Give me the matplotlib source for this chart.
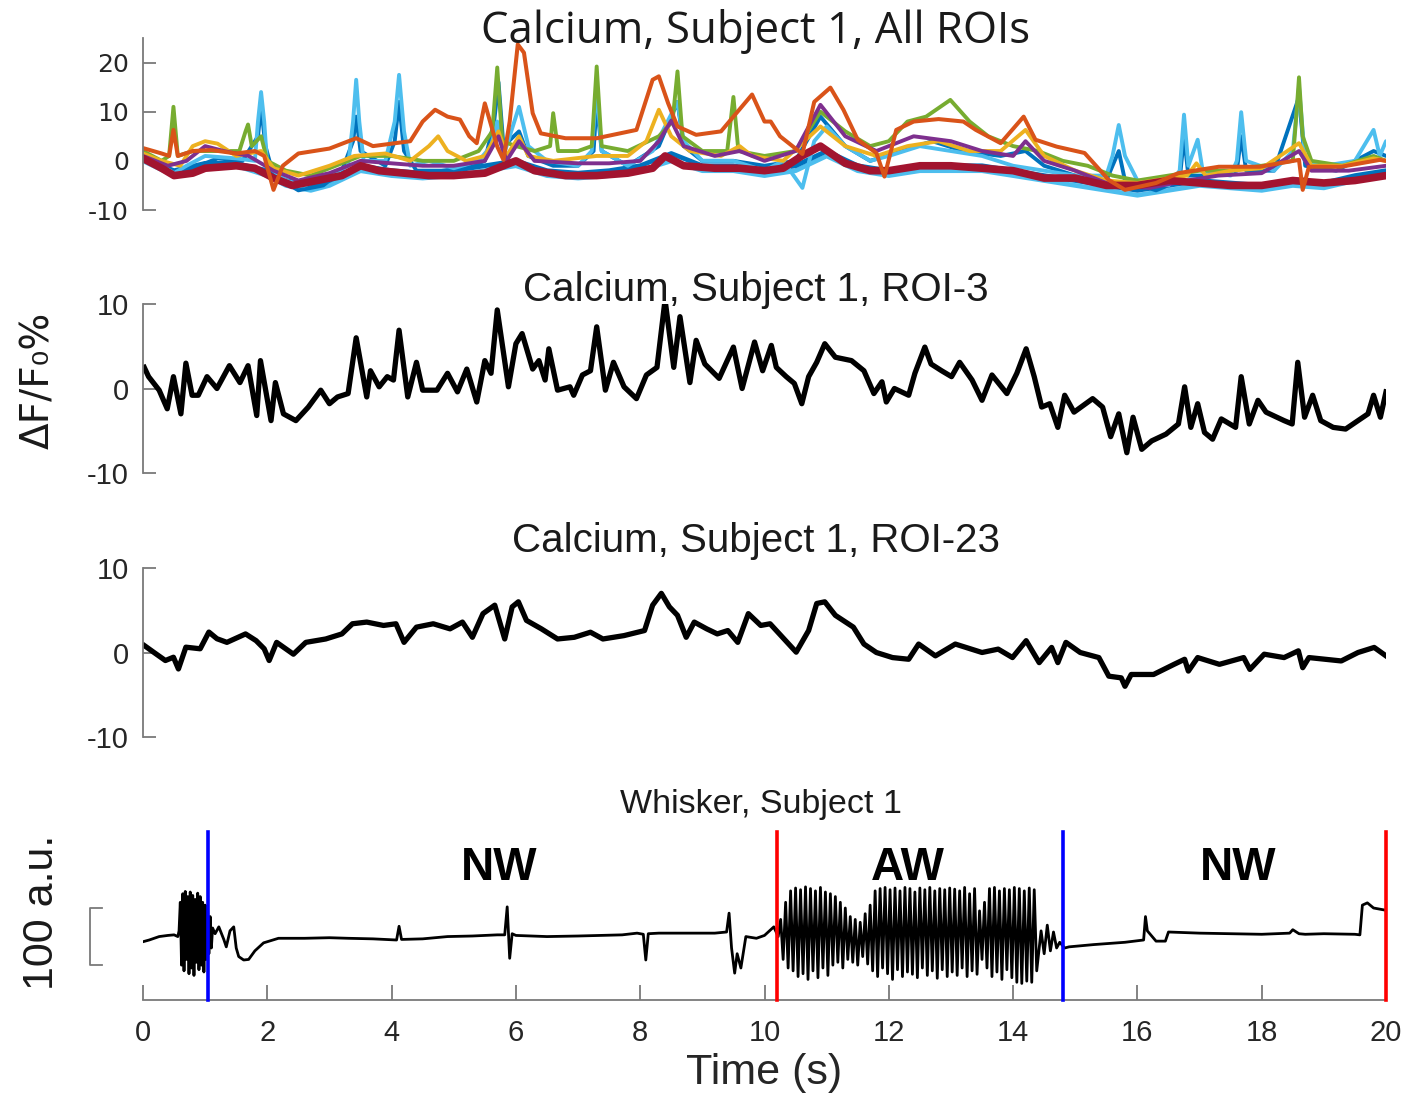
import numpy as np
import matplotlib
matplotlib.use("Agg")
import matplotlib.pyplot as plt
import matplotlib.transforms as mtrans

plt.rcParams["axes.unicode_minus"] = False

# ---------------- DATA ----------------
# Panel 1: all ROIs (MATLAB default colour order)
c_blue, c_orange, c_yellow, c_purple, c_green, c_lblue, c_dred = (
    "#0072BD", "#D95319", "#EDB120", "#7E2F8E", "#77AC30", "#4DBEEE", "#A2142F")

blue_t = [0, 0.3, 0.5, 0.8, 1.2, 1.6, 1.85, 1.9, 1.97, 2.1, 2.5, 2.9, 3.2, 3.38, 3.43, 3.5, 3.9, 4.05, 4.12, 4.2,
          4.4, 4.8, 5.2, 5.5, 5.65, 5.72, 5.8, 6.05, 6.2, 6.6, 7.0, 7.25, 7.3, 7.38, 7.8, 8.3, 8.6, 8.7, 9.0, 9.5,
          10.0, 10.5, 10.9, 11.3, 11.7, 12.2, 12.7, 13.2, 13.8, 14.2, 14.5, 15.0, 15.5, 15.7, 15.8, 16.3, 16.68,
          16.75, 16.82, 17.2, 17.6, 17.67, 17.75, 18.2, 18.6, 18.7, 19.2, 19.8, 20.0]
blue_v = [0.5, -1.5, -3, -1.5, 0.5, 0, 5, 11, 3, -3, -6, -5, -2, 4, 9, 2, -1, 4, 12, 2,
          -2, -2, -1.5, 0, 8, 16, 3, 6, 1, -1, -1, 2, 12, 2, -1, 3, 12, 3, 0, 0,
          -1, 0, 9, 3, 0, 2, 4, 2, 1, 2, -1, -3, -4, 2, -4, -6, -4,
          5, -3, -3, -2, 5, -2, -2, 13, -1, -2, 2, 1]

blue2_t = [0, 0.5, 1.0, 1.5, 2.0, 2.3, 2.7, 3.0, 3.5, 4.0, 4.5, 5.0, 5.5, 6.0, 6.5, 7.0, 7.5, 8.0, 8.5, 9.0,
           9.5, 10.0, 10.5, 11.0, 11.5, 12.0, 12.5, 13.0, 13.5, 14.0, 14.5, 15.0, 15.5, 16.0, 16.5, 17.0,
           17.5, 18.0, 18.5, 19.0, 19.5, 20.0]
blue2_v = [0.5, -2, -0.5, -0.5, -2, -4, -5, -4, -1, -2, -2.5, -2, -1, 0, -2, -2.5, -2, -1, 1.5, -1,
           -1, -2, -1, 2, -1, -2, -1, -1, -1, -2, -3, -4, -5, -6, -5, -4,
           -4.5, -5, -4, -4.5, -3, -2]

lblue_t = [0, 0.3, 0.5, 0.7, 1.0, 1.5, 1.8, 1.85, 1.9, 1.95, 2.0, 2.3, 2.6, 3.0, 3.3, 3.38, 3.43, 3.48, 3.55, 3.9,
           4.05, 4.12, 4.2, 4.3, 4.6, 5.0, 5.4, 5.6, 5.7, 5.8, 6.05, 6.2, 6.5, 7.0, 7.22, 7.3, 7.38, 7.8, 8.2, 8.4,
           8.6, 8.7, 9.0, 9.5, 10.0, 10.3, 10.61, 10.8, 11.0, 11.3, 11.7, 12.0, 12.5, 13.0, 13.5, 14.0, 14.5, 15.0,
           15.5, 15.6, 15.7, 15.8, 16.0, 16.5, 16.68, 16.75, 16.82, 16.97, 17.05, 17.5, 17.6, 17.67, 17.75, 18.2,
           18.5, 18.6, 18.7, 19.0, 19.5, 19.8, 19.9, 20.0]
lblue_v = [1, -1, -2.5, -1, 1, 0.5, 0, 8, 14, 8, -1, -4, -5, -3, -1, 8, 16.5, 8, 0, 0,
           8, 17.5, 6, -1, 0, -1.5, 0, 3, 8, 1, 11, 3, 0, -1, 2, 15, 2, -1, 2, 7,
           12, 4, 0, 0, -2, 0, -5.5, 4, 7, 3, 0, 1, 3, 2, 1, -1, -2, -3,
           -3, 1, 7.3, 1, -4, -5, -2, 9.4, -1, 4.3, -2, -3, 0, 9.9, 0, -2,
           2, 15, 0, -1, 0, 6.3, 1, 4]

lblue2_t = [0, 0.5, 1.0, 1.5, 2.0, 2.3, 2.7, 3.0, 3.5, 4.0, 4.5, 5.0, 5.5, 6.0, 6.5, 7.0, 7.5, 8.0, 8.5, 9.0,
            9.5, 10.0, 10.5, 11.0, 11.5, 12.0, 12.5, 13.0, 13.5, 14.0, 14.5, 15.0, 15.5, 16.0, 16.5, 17.0,
            17.5, 18.0, 18.5, 19.0, 19.5, 20.0]
lblue2_v = [0, -3, -1, -1, -3, -5, -6, -5, -2, -3, -3.5, -3, -2, -1, -3, -3.5, -3, -2, 0, -2,
            -2, -3, -2, 1, -2, -3, -2, -2, -2, -3, -4, -5, -6, -7, -6, -5,
            -5.5, -6, -5, -5.5, -4, -3]

green_t = [0, 0.3, 0.42, 0.49, 0.56, 0.8, 1.2, 1.55, 1.65, 1.69, 1.75, 1.9, 2.0, 2.3, 2.7, 3.1, 3.5, 4.0, 4.5, 5.0,
           5.4, 5.62, 5.7, 5.78, 6.0, 6.3, 6.55, 6.6, 6.68, 7.0, 7.22, 7.3, 7.38, 7.8, 8.3, 8.52, 8.6, 8.68, 9.0,
           9.4, 9.5, 9.58, 10.0, 10.5, 10.9, 11.3, 11.7, 12.0, 12.3, 12.6, 12.99, 13.3, 13.6, 14.0, 14.4, 14.8,
           15.2, 15.6, 16.0, 16.5, 17.0, 17.5, 18.0, 18.5, 18.55, 18.6, 18.66, 18.8, 19.3, 19.8, 20.0]
green_v = [2, 0, 1, 11, 1, 2, 2, 2, 6, 7.4, 3, 5, 0, -2, -3, -1, 1, 1, 0, 0,
           2, 6, 19, 4, 3, 2, 3, 9.7, 2, 2, 3, 19.2, 3, 2, 5, 8, 18.2, 5, 2,
           2, 13, 2, 1, 2, 10, 6, 3, 4, 8, 9, 12.4, 8, 5, 3, 2, 0,
           -1, -3, -4, -3, -2, -2, -1, 0, 8, 17, 5, 0, -1, 1, 0]

yellow_t = [0, 0.3, 0.6, 0.8, 1.0, 1.2, 1.5, 1.9, 2.1, 2.5, 3.0, 3.4, 3.9, 4.3, 4.6, 4.75, 4.9, 5.2, 5.5, 5.72,
            5.85, 6.05, 6.2, 6.6, 7.3, 7.8, 8.1, 8.3, 8.5, 8.8, 9.3, 9.6, 9.8, 10.3, 10.9, 11.3, 11.8, 12.3,
            12.8, 13.3, 13.8, 14.2, 14.5, 15.0, 15.5, 16.0, 16.8, 16.95, 17.1, 17.5, 18.0, 18.6, 18.8, 19.3,
            19.8, 20.0]
yellow_v = [1.5, 0, -1, 3, 4, 3.5, 1, 2, -1.5, -3, -1, 1, 1.5, 0, 3, 5, 2, 0, 1, 6,
            1, 5, 1, 0, 1, 1, 4, 10.4, 5, 2, 1, 3, 1, 0, 7, 3, 1, 3,
            4, 2, 2, 6.3, 1, -2, -4, -4.5, -3, -0.5, -3, -2, -1.5, 3.6, -1, -1,
            0.5, 0]

purple_t = [0, 0.4, 0.7, 1.0, 1.3, 1.7, 2.1, 2.5, 3.0, 3.5, 4.0, 4.5, 5.0, 5.5, 5.72, 5.85, 6.05, 6.3, 7.0, 7.5,
            8.0, 8.3, 8.5, 8.7, 9.2, 9.6, 10.0, 10.5, 10.9, 11.3, 11.8, 12.4, 13.0, 13.5, 14.0, 14.2, 14.5,
            15.0, 15.6, 16.2, 16.8, 17.3, 18.0, 18.6, 18.8, 19.4, 20.0]
purple_v = [1, -1, 0, 3, 2, 1, -2, -4, -2.5, 0, -0.5, -1, -1, 0, 5, 0, 4, 0, -0.5, -0.5,
            0, 4, 8.2, 3, 1, 2, 0, 2, 11.4, 5, 2, 5, 4, 2, 1, 4, 0,
            -2, -5, -5.5, -4, -3, -2.5, 2, -2, -2, -1]

dred_t = [0, 0.3, 0.5, 0.8, 1.0, 1.5, 1.8, 2.1, 2.4, 2.8, 3.2, 3.5, 3.8, 4.2, 4.6, 5.0, 5.5, 5.8, 6.0, 6.3,
          6.8, 7.3, 7.8, 8.2, 8.4, 8.7, 9.2, 9.6, 10.0, 10.3, 10.6, 10.9, 11.3, 11.7, 12.0, 12.5, 13.0, 13.5,
          14.0, 14.5, 15.0, 15.5, 16.0, 16.5, 17.0, 17.5, 18.0, 18.5, 19.0, 19.5, 20.0]
dred_v = [0.5, -1.5, -3, -2.5, -1.5, -1, -1.5, -3.5, -5, -4, -3, -1, -2, -2.5, -3, -3, -2.5, -1, 0, -2,
          -3, -3, -2.5, -1.5, 1, -1, -1.5, -1.5, -2, -1.5, 1, 3, -0.5, -2, -2, -1, -1, -1.5,
          -2, -3.5, -3.5, -5, -5, -4, -4.5, -5, -5, -4, -4.5, -4, -3]

orange_t = [0, 0.3, 0.42, 0.49, 0.56, 0.8, 1.1, 1.5, 1.8, 1.95, 2.1, 2.25, 2.5, 3.0, 3.43, 3.7, 4.0, 4.3, 4.5,
            4.7, 4.9, 5.1, 5.25, 5.37, 5.5, 5.7, 5.8, 5.9, 6.03, 6.13, 6.27, 6.4, 6.8, 7.3, 7.94, 8.2, 8.3,
            8.45, 8.6, 8.9, 9.3, 9.5, 9.8, 10.0, 10.1, 10.25, 10.61, 10.8, 11.06, 11.27, 11.5, 11.8, 11.93,
            12.12, 12.4, 12.8, 13.2, 13.4, 13.8, 14.17, 14.36, 14.7, 15.15, 15.54, 15.8, 16.3, 16.66, 17.31,
            17.97, 18.6, 18.66, 18.76, 19.28, 19.9, 20.0]
orange_v = [2.6, 1.5, 1, 6.3, 1, 2, 2.2, 1.5, 2, 1, -5.9, -1, 1.5, 2.5, 4.6, 3, 3.5, 4, 8,
            10.4, 9, 8.4, 5, 3.6, 11.7, 2.9, 0.2, 8, 23.7, 22, 9.7, 5.6, 4.6, 4.6, 6.3, 16.5, 17.2,
            11.7, 7, 5.3, 6, 9, 13.5, 8, 8, 5, 1.4, 12, 14.9, 10.4, 4.3, 1.6, -3.2,
            6.3, 8, 8.5, 8, 6.3, 3.6, 9.0, 4.3, 2.9, 1.6, -3.9, -5.9, -4.5, -2.5, -1.2,
            -1.2, 0.2, -5.9, -1.2, -1.2, 0.2, 0]

# Panel 2: ROI-3
roi3_t = [0.02, 0.09, 0.26, 0.39, 0.49, 0.61, 0.69, 0.79, 0.89, 1.03, 1.19, 1.39, 1.56, 1.69, 1.83, 1.89, 2.06,
          2.13, 2.26, 2.46, 2.66, 2.86, 3.00, 3.13, 3.30, 3.43, 3.60, 3.66, 3.80, 3.93, 4.03, 4.12, 4.26, 4.40,
          4.50, 4.73, 4.90, 5.06, 5.21, 5.37, 5.50, 5.60, 5.70, 5.88, 6.00, 6.10, 6.27, 6.37, 6.47, 6.53, 6.67,
          6.87, 6.93, 7.07, 7.20, 7.30, 7.44, 7.57, 7.74, 7.94, 8.10, 8.27, 8.40, 8.54, 8.64, 8.80, 8.90, 9.04,
          9.27, 9.50, 9.64, 9.84, 9.97, 10.11, 10.19, 10.35, 10.48, 10.60, 10.71, 10.84, 10.97, 11.14, 11.40,
          11.60, 11.76, 11.89, 11.96, 12.09, 12.32, 12.42, 12.58, 12.68, 12.85, 13.01, 13.14, 13.34, 13.50,
          13.66, 13.90, 14.06, 14.21, 14.34, 14.46, 14.59, 14.72, 14.83, 14.98, 15.28, 15.44, 15.57, 15.70,
          15.83, 15.93, 16.07, 16.23, 16.46, 16.66, 16.76, 16.86, 16.97, 17.08, 17.21, 17.35, 17.58, 17.67,
          17.80, 17.94, 18.07, 18.36, 18.49, 18.58, 18.69, 18.82, 18.95, 19.15, 19.35, 19.55, 19.71, 19.80,
          19.91, 20.0]
roi3_v = [2.5, 1.4, -0.2, -2.4, 1.4, -3.0, 3.0, -0.8, -0.8, 1.4, 0, 2.7, 0.7, 2.7, -3.2, 3.3, -3.8,
          0.7, -3.0, -3.8, -2.2, -0.2, -1.8, -1.0, -0.6, 6.0, -1.0, 2.1, 0.2, 1.4, 1.0, 6.9, -1.0, 3.1,
          -0.2, -0.2, 1.8, -0.4, 2.3, -1.6, 3.3, 1.8, 9.3, 0.2, 5.3, 6.5, 2.3, 3.3, 1.0, 4.7, -0.2,
          0.2, -0.8, 1.6, 2.1, 7.3, -0.2, 3.1, 0.2, -1.2, 1.6, 2.5, 10.5, 2.5, 8.5, 0.7, 5.7, 2.9,
          1.2, 4.9, 0, 5.5, 2.1, 5.1, 2.5, 1.4, 0.6, -1.8, 1.4, 3.1, 5.3, 3.7, 3.3,
          2.1, -0.6, 0.8, -1.6, 0, -0.8, 1.8, 4.9, 2.9, 2.1, 1.4, 3.1, 1.0, -1.4,
          1.6, -0.6, 1.8, 4.7, 1.4, -2.2, -1.8, -4.6, -0.8, -2.8, -1.2, -2.2, -5.7, -3.0,
          -7.6, -3.4, -7.2, -6.2, -5.4, -4.2, 0.2, -4.6, -1.8, -5.2, -6.0, -3.6, -4.6, 1.4,
          -4.2, -1.4, -2.8, -3.8, -4.2, 3.1, -3.4, -0.8, -3.8, -4.6, -4.8, -3.8, -3.0, -0.8,
          -3.4, -0.4]

# Panel 3: ROI-23
roi23_t = [0.02, 0.17, 0.36, 0.49, 0.57, 0.69, 0.92, 1.06, 1.19, 1.35, 1.65, 1.82, 1.95, 2.03, 2.15, 2.42,
           2.62, 2.94, 3.20, 3.37, 3.60, 3.87, 4.07, 4.20, 4.40, 4.67, 4.94, 5.14, 5.30, 5.47, 5.66, 5.82,
           5.94, 6.04, 6.17, 6.41, 6.67, 6.94, 7.20, 7.40, 7.74, 8.07, 8.20, 8.34, 8.47, 8.60, 8.74, 8.87,
           9.07, 9.24, 9.41, 9.57, 9.74, 9.94, 10.09, 10.29, 10.51, 10.71, 10.84, 10.97, 11.14, 11.43,
           11.60, 11.80, 12.06, 12.32, 12.48, 12.75, 13.07, 13.50, 13.76, 13.99, 14.21, 14.42, 14.62, 14.72,
           14.85, 15.08, 15.38, 15.54, 15.74, 15.80, 15.90, 16.26, 16.59, 16.76, 16.82, 16.97, 17.32, 17.71,
           17.81, 18.04, 18.36, 18.59, 18.66, 18.76, 19.28, 19.55, 19.81, 20.0]
roi23_v = [0.83, 0.04, -0.95, -0.56, -1.95, 0.63, 0.44, 2.42, 1.63, 1.2, 2.2, 1.4, 0.44, -0.95, 1.2, -0.2,
           1.2, 1.6, 2.2, 3.4, 3.6, 3.2, 3.4, 1.2, 3.0, 3.4, 2.8, 3.6, 1.8, 4.6, 5.6, 1.6,
           5.4, 6.0, 3.8, 2.8, 1.6, 1.8, 2.4, 1.6, 2.0, 2.6, 5.6, 7.0, 5.4, 4.4, 1.8, 3.6,
           2.8, 2.2, 2.6, 1.2, 4.6, 3.2, 3.4, 1.8, 0.04, 2.6, 5.8, 6.0, 4.4, 3.0,
           1.0, 0.0, -0.6, -0.8, 1.0, -0.4, 1.0, 0.0, 0.4, -0.6, 1.4, -1.2, 0.6, -1.2,
           1.2, 0.0, -0.6, -2.8, -3.0, -4.0, -2.6, -2.6, -1.4, -0.8, -2.2, -0.6, -1.4, -0.6,
           -2.0, -0.2, -0.6, 0.2, -1.8, -0.6, -1.0, 0.0, 0.6, -0.4]

# Panel 4: whisker (a.u.)
whisk_pre_t = [0, 0.1, 0.26, 0.4, 0.5, 0.56]
whisk_pre_v = [-9, -6, 0, 2, 3, 0]
burst1_start, burst1_step = 0.58, 0.02
burst1_v = [10, 60, -50, 75, -60, 79, -40, 70, -65, 78, -55, 72, -68, 65, -45, 76, -58, 70, -50, 60,
            -62, 55, -40, 45, -30, 35, -20, 15]
whisk_mid_t = [1.16, 1.22, 1.30, 1.34, 1.40, 1.46, 1.50, 1.54, 1.62, 1.70, 1.80, 1.94, 2.18, 2.6, 3.0, 3.3,
               3.7, 4.08, 4.12, 4.16, 4.5, 4.9, 5.3, 5.7, 5.82, 5.86, 5.9, 5.94, 6.0, 6.5, 7.0, 7.71, 7.95,
               8.05, 8.09, 8.13, 8.3, 8.8, 9.2, 9.39, 9.43, 9.47, 9.52, 9.56, 9.62, 9.7, 9.87, 10.0, 10.15,
               10.2]
whisk_mid_v = [5, 17, -5, -18, 10, 17, -20, -35, -41, -40, -25, -11, -3, -3, -2, -3,
               -4, -6, 18, -5, -4, 0, 1, 3, 3, 52, -38, 5, 2, 0, 1, 3, 6,
               4, -41, 5, 6, 6, 6, 8, 41, -20, -64, -30, -55, 0, -3, 2, 17,
               5]
aw_start, aw_step = 10.22, 0.04
aw_v = [0, 30, -40, 60, -55, 80, -60, 85, -70, 82,
        -65, 87, -75, 84, -60, 80, -72, 86, -55, 78, -68, 75, -50, 70, -45, 60, -55, 50,
        -40, 35, -45, 30, -50, 25, -35, 40, -48, 55,
        -60, 80, -70, 84, -55, 86, -65, 82, -75, 85, -58, 80, -70, 86, -62, 84, -66, 78, -72, 85,
        -55, 82, -68, 86, -60, 80, -73, 84, -58, 82, -70, 85,
        -62, 83, -68, 80, -55, 86, -70, 75, -60, 84, -66, 45, -40, 60, -55, 84, -70, 86, -62, 80,
        -75, 84, -58, 82,
        -72, 86, -80, 84, -82, 80, -78, 85, -80, 82, -60]
whisk_post_t = [14.45, 14.5, 14.55, 14.6, 14.65, 14.7, 14.75, 14.83, 14.9, 15.3, 15.8, 16.1, 16.13, 16.16,
                16.3, 16.45, 16.5, 17.0, 17.5, 18.0, 18.45, 18.5, 18.6, 18.7, 19.0, 19.5, 19.58, 19.62,
                19.7, 19.8, 19.9, 20.0]
whisk_post_v = [10, -30, 20, -25, 8, -20, -10, -20, -18, -14, -10, -6, 35, 10,
                -8, -8, 8, 6, 5, 4, 6, 12, 5, 4, 5, 4, 3, 55,
                59, 50, 48, 46]

onset_blue = [1.05, 14.8]     # whisking offsets
onset_red = [10.2, 20.0]      # whisking onsets
state_labels = ["NW", "AW", "NW"]
state_pos = [5.73, 12.31, 17.62]

titles = ["Calcium, Subject 1, All ROIs", "Calcium, Subject 1, ROI-3",
          "Calcium, Subject 1, ROI-23", "Whisker, Subject 1"]

# ---------------- FIGURE ----------------
W, H = 1416, 1095
fig = plt.figure(figsize=(W / 100, H / 100), dpi=100)
L, Wd = 143 / W, 1243 / W
spine_c = "#7a7a7a"
tick_c = "#262626"


def fy(py):
    return 1 - py / H


ax1 = fig.add_axes([L, fy(210), Wd, 172 / H])
ax2 = fig.add_axes([L, fy(473), Wd, 169 / H])
ax3 = fig.add_axes([L, fy(737), Wd, 169 / H])
ax4 = fig.add_axes([L, fy(1000), Wd, 168 / H])

for a in (ax1, ax2, ax3, ax4):
    a.set_xlim(0, 20)
    for s in ("top", "right"):
        a.spines[s].set_visible(False)
    a.patch.set_alpha(0)

for a in (ax1, ax2, ax3):
    a.spines["bottom"].set_visible(False)
    a.spines["left"].set_color(spine_c)
    a.spines["left"].set_linewidth(1.3)
    a.tick_params(axis="x", bottom=False, labelbottom=False)
    a.tick_params(axis="y", direction="in", length=9, width=1.3, color=spine_c,
                  labelcolor=tick_c, pad=10)

# panel 1
ax1.set_ylim(-10, 25)
ax1.set_yticks([-10, 0, 10, 20])
for lab in ax1.get_yticklabels():
    lab.set_fontfamily("DejaVu Sans")
    lab.set_fontsize(18)
for t, v, c, lw in [(lblue2_t, lblue2_v, c_lblue, 3.4), (blue2_t, blue2_v, c_blue, 3.4),
                    (blue_t, blue_v, c_blue, 2.8), (lblue_t, lblue_v, c_lblue, 2.8),
                    (green_t, green_v, c_green, 2.8), (yellow_t, yellow_v, c_yellow, 2.8),
                    (purple_t, purple_v, c_purple, 2.8), (dred_t, dred_v, c_dred, 5.5),
                    (orange_t, orange_v, c_orange, 2.9)]:
    ax1.plot(t, v, color=c, lw=lw, solid_joinstyle="round", solid_capstyle="round")

# panels 2 & 3
for a, t, v in [(ax2, roi3_t, roi3_v), (ax3, roi23_t, roi23_v)]:
    a.set_ylim(-10, 10)
    a.set_yticks([-10, 0, 10])
    for lab in a.get_yticklabels():
        lab.set_fontfamily("Liberation Sans")
        lab.set_fontsize(21)
    a.plot(t, v, color="black", lw=3.8, solid_joinstyle="round")

# panel 4: whisker
wt = list(whisk_pre_t) + [burst1_start + i * burst1_step for i in range(len(burst1_v))] \
    + list(whisk_mid_t) + [aw_start + i * aw_step for i in range(len(aw_v))] + list(whisk_post_t)
wv = list(whisk_pre_v) + list(burst1_v) + list(whisk_mid_v) + list(aw_v) + list(whisk_post_v)
ax4.set_ylim(-111, 183)
ax4.plot(wt, wv, color="black", lw=2.0)
for x in onset_blue:
    ax4.axvline(x, color="#0000FF", lw=2.6, zorder=3, clip_on=False)
for x in onset_red:
    ax4.axvline(x, color="#FF0000", lw=2.6, zorder=3, clip_on=False)
for lab, x in zip(state_labels, state_pos):
    ax4.text(x, 120, lab, ha="center", va="center", fontsize=33, fontweight="bold",
             family="Liberation Sans")
ax4.spines["left"].set_visible(False)
ax4.spines["bottom"].set_color(spine_c)
ax4.spines["bottom"].set_linewidth(1.3)
ax4.set_yticks([])
ax4.set_xticks(range(0, 21, 2))
ax4.tick_params(axis="x", direction="in", length=11, width=1.3, color=spine_c,
                labelcolor=tick_c, pad=14, labelsize=21)
for lab in ax4.get_xticklabels():
    lab.set_fontfamily("Liberation Sans")
ax4.set_xlabel("Time (s)", fontsize=31, family="Liberation Sans", labelpad=4, color=tick_c)

# scale bar (100 a.u.)
tr = mtrans.blended_transform_factory(ax4.transAxes, ax4.transData)
ax4.plot([-0.033, -0.0426, -0.0426, -0.033], [50, 50, -50, -50], color=spine_c, lw=1.3,
         transform=tr, clip_on=False)

# titles and labels
fig.text(756 / W, fy(32), titles[0], ha="center", va="center", fontsize=31.5, family="Open Sans",
         color="#1a1a1a")
fig.text(756 / W, fy(290), titles[1], ha="center", va="center", fontsize=29, family="Liberation Sans",
         color="#1a1a1a")
fig.text(756 / W, fy(541), titles[2], ha="center", va="center", fontsize=29, family="Liberation Sans",
         color="#1a1a1a")
fig.text(761 / W, fy(805), titles[3], ha="center", va="center", fontsize=24.5,
         family="Liberation Sans", color="#1a1a1a")
fig.text(38 / W, fy(380), "ΔF/F₀%", rotation=90, ha="center", va="center", fontsize=28,
         family="DejaVu Sans", color="#1a1a1a")
fig.text(42 / W, fy(912), "100 a.u.", rotation=90, ha="center", va="center", fontsize=31,
         family="Liberation Sans", color="#1a1a1a")

fig.savefig("out.png", dpi=100)
